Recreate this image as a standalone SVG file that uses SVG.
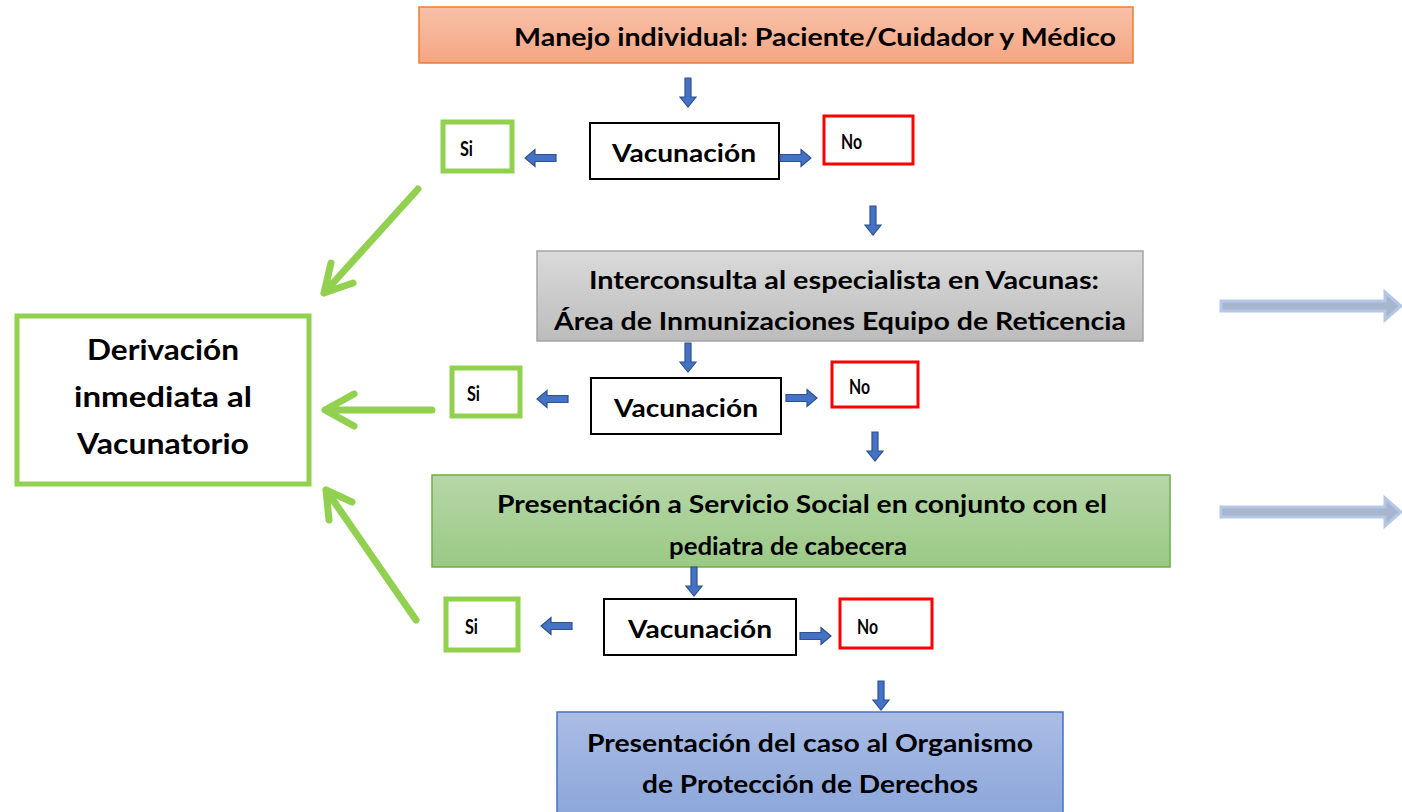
<svg xmlns="http://www.w3.org/2000/svg" width="1402" height="812" viewBox="0 0 1402 812">
<style>
text{font-family:Lato,"Open Sans","Liberation Sans",sans-serif;font-weight:bold;fill:#000}
.t26{font-size:25px}
.t24{font-size:25px}
.t28{font-size:29px}
.sm{font-size:20px}
.si{fill:#fff;stroke:#92d050;stroke-width:5}
.no{fill:#fff;stroke:#ff0000;stroke-width:3}
.vac{fill:#fff;stroke:#000;stroke-width:2}
.blk{fill:#4472c4;stroke:#2f528f;stroke-width:1.2}
.gl{fill:none;stroke:#92d050;stroke-width:7;stroke-linecap:round;stroke-linejoin:round}
.fa{fill:#a7b5cf;stroke:#b4c7e7;stroke-width:3}
</style>
<defs>
<linearGradient id="gO" x1="0" y1="0" x2="0" y2="1"><stop offset="0" stop-color="#f8c1a8"/><stop offset="1" stop-color="#f4a582"/></linearGradient>
<linearGradient id="gG" x1="0" y1="0" x2="0" y2="1"><stop offset="0" stop-color="#dadada"/><stop offset="1" stop-color="#bcbcbc"/></linearGradient>
<linearGradient id="gV" x1="0" y1="0" x2="0" y2="1"><stop offset="0" stop-color="#b6d7a8"/><stop offset="1" stop-color="#9bc985"/></linearGradient>
<linearGradient id="gB" x1="0" y1="0" x2="0" y2="1"><stop offset="0" stop-color="#aabde5"/><stop offset="1" stop-color="#8ca6da"/></linearGradient>
<path id="ad" class="blk" d="M-3,0 h6 v19 h5 l-8,10 l-8,-10 h5 z"/>
<path id="ar" class="blk" d="M0,-3.5 h21 v-5 l10,8.5 l-10,8.5 v-5 h-21 z"/>
<path id="al" class="blk" d="M0,-3.5 h-21 v-5 l-10,8.5 l10,8.5 v-5 h21 z"/>
</defs>

<g id="n-manejo">
<rect x="419" y="7" width="714" height="56" fill="url(#gO)" stroke="#ed7d31" stroke-width="1.5"/>
<text class="t26" x="514" y="46" textLength="602" lengthAdjust="spacingAndGlyphs">Manejo individual: Paciente/Cuidador y Médico</text>
</g>

<g id="n-si1"><rect class="si" x="443" y="122" width="69" height="49"/><text class="sm" x="460" y="156" textLength="13" lengthAdjust="spacingAndGlyphs">Si</text></g>
<g id="n-vac1"><rect class="vac" x="590" y="123" width="189" height="56"/><text class="t24" x="684" y="162" text-anchor="middle" textLength="144" lengthAdjust="spacingAndGlyphs">Vacunación</text></g>
<g id="n-no1"><rect class="no" x="824" y="116" width="89" height="48"/><text class="sm" x="841" y="149" textLength="21" lengthAdjust="spacingAndGlyphs">No</text></g>

<g id="n-inter">
<rect x="537" y="251" width="606" height="90" fill="url(#gG)" stroke="#a5a5a5" stroke-width="1.5"/>
<text class="t24" x="844" y="289" text-anchor="middle" textLength="510" lengthAdjust="spacingAndGlyphs">Interconsulta al especialista en Vacunas:</text>
<text class="t24" x="840" y="330" text-anchor="middle" textLength="572" lengthAdjust="spacingAndGlyphs">Área de Inmunizaciones Equipo de Reticencia</text>
</g>

<g id="n-si2"><rect class="si" x="452" y="368" width="68" height="48"/><text class="sm" x="467" y="401" textLength="13" lengthAdjust="spacingAndGlyphs">Si</text></g>
<g id="n-vac2"><rect class="vac" x="591" y="378" width="190" height="56"/><text class="t24" x="686" y="417" text-anchor="middle" textLength="144" lengthAdjust="spacingAndGlyphs">Vacunación</text></g>
<g id="n-no2"><rect class="no" x="832" y="362" width="86" height="45"/><text class="sm" x="849" y="394" textLength="21" lengthAdjust="spacingAndGlyphs">No</text></g>

<g id="n-social">
<rect x="432" y="475" width="738" height="92" fill="url(#gV)" stroke="#70ad47" stroke-width="1.5"/>
<text class="t24" x="802" y="513" text-anchor="middle" textLength="610" lengthAdjust="spacingAndGlyphs">Presentación a Servicio Social en conjunto con el</text>
<text class="t24" x="788" y="555" text-anchor="middle" textLength="238" lengthAdjust="spacingAndGlyphs">pediatra de cabecera</text>
</g>

<g id="n-si3"><rect class="si" x="446" y="599" width="72" height="51"/><text class="sm" x="465" y="634" textLength="13" lengthAdjust="spacingAndGlyphs">Si</text></g>
<g id="n-vac3"><rect class="vac" x="604" y="599" width="192" height="56"/><text class="t24" x="700" y="638" text-anchor="middle" textLength="144" lengthAdjust="spacingAndGlyphs">Vacunación</text></g>
<g id="n-no3"><rect class="no" x="840" y="599" width="92" height="49"/><text class="sm" x="857" y="634" textLength="21" lengthAdjust="spacingAndGlyphs">No</text></g>

<g id="n-organismo">
<rect x="557" y="712" width="506" height="104" fill="url(#gB)" stroke="#4472c4" stroke-width="1.5"/>
<text class="t24" x="810" y="752" text-anchor="middle" textLength="446" lengthAdjust="spacingAndGlyphs">Presentación del caso al Organismo</text>
<text class="t24" x="810" y="793" text-anchor="middle" textLength="336" lengthAdjust="spacingAndGlyphs">de Protección de Derechos</text>
</g>

<g id="n-derivacion">
<rect x="17" y="316" width="292" height="168" fill="#fff" stroke="#92d050" stroke-width="5"/>
<text class="t28" x="163" y="360" text-anchor="middle" textLength="152" lengthAdjust="spacingAndGlyphs">Derivación</text>
<text class="t28" x="163" y="407" text-anchor="middle" textLength="178" lengthAdjust="spacingAndGlyphs">inmediata al</text>
<text class="t28" x="163" y="454" text-anchor="middle" textLength="172" lengthAdjust="spacingAndGlyphs">Vacunatorio</text>
</g>

<g id="connectors">
<use href="#ad" x="688" y="78"/>
<use href="#al" x="556" y="158"/>
<use href="#ar" x="780" y="158"/>
<use href="#ad" x="873" y="206"/>
<use href="#ad" x="688" y="343"/>
<use href="#al" x="568" y="399"/>
<use href="#ar" x="786" y="398"/>
<use href="#ad" x="875" y="432"/>
<use href="#ad" x="694" y="567"/>
<use href="#al" x="572" y="626"/>
<use href="#ar" x="800" y="636"/>
<use href="#ad" x="881" y="681"/>

<path class="gl" d="M418,189 L324,293 M331,263 L324,293 L353,283"/>
<path class="gl" d="M432,410 L325,410 M354,394 L325,410 L354,426"/>
<path class="gl" d="M416,620 L326,490 M329,520 L326,490 L352,502"/>

<path class="fa" d="M1221,301 h164 v-9 l16,14 l-16,14 v-9 h-164 z"/>
<path class="fa" d="M1221,507 h164 v-9 l16,14 l-16,14 v-9 h-164 z"/>
</g>
</svg>
